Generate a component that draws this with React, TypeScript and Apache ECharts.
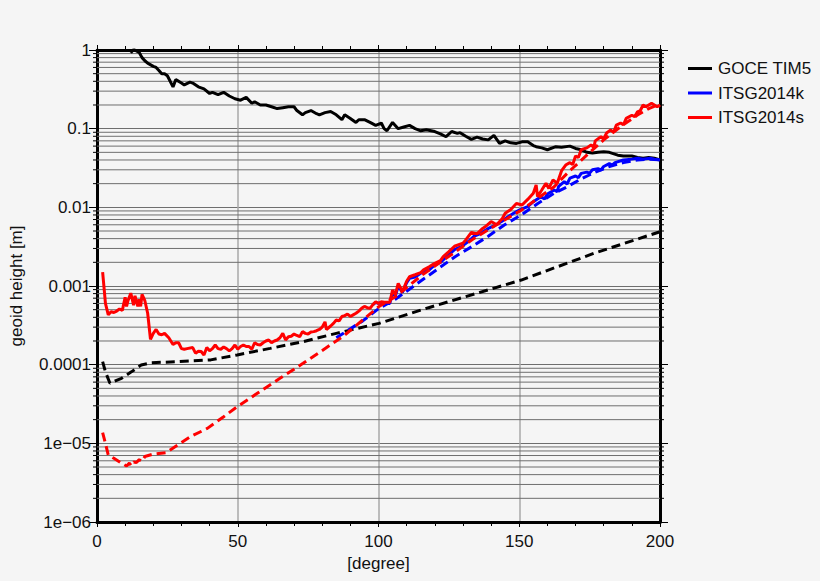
import { useEffect, useRef } from "react";
import * as echarts from "echarts";

// spherical harmonic degree vs. geoid height error [m]
const goceSolid: [number, number][] = [
  [12, 0.92], [13, 1.02], [15, 0.93], [16, 0.8], [17, 0.73], [18, 0.68], [20, 0.62], [21, 0.6],
  [22, 0.55], [23, 0.5], [24, 0.5], [25, 0.47], [26, 0.4], [27, 0.34], [28, 0.42], [30, 0.38],
  [31, 0.36], [33, 0.39], [34, 0.38], [36, 0.34], [38, 0.32], [40, 0.28], [41, 0.29], [43, 0.27],
  [45, 0.29], [47, 0.26], [49, 0.24], [51, 0.23], [53, 0.25], [55, 0.21], [56, 0.22], [58, 0.2],
  [60, 0.2], [62, 0.19], [64, 0.18], [66, 0.185], [68, 0.19], [70, 0.19], [71, 0.17], [73, 0.15],
  [74, 0.16], [76, 0.17], [78, 0.155], [79, 0.15], [81, 0.16], [83, 0.165], [85, 0.15], [87, 0.13],
  [88, 0.15], [90, 0.135], [92, 0.12], [93, 0.13], [95, 0.13], [97, 0.12], [99, 0.11], [101, 0.118],
  [102, 0.1], [103, 0.094], [105, 0.12], [107, 0.1], [109, 0.105], [111, 0.11], [113, 0.1],
  [115, 0.094], [117, 0.097], [120, 0.092], [122, 0.086], [124, 0.079], [126, 0.092], [128, 0.087],
  [129, 0.089], [131, 0.08], [133, 0.073], [135, 0.078], [137, 0.074], [139, 0.072], [141, 0.082],
  [143, 0.065], [145, 0.07], [147, 0.066], [149, 0.065], [151, 0.068], [153, 0.068], [155, 0.061],
  [156, 0.059], [158, 0.057], [160, 0.054], [163, 0.059], [165, 0.058], [168, 0.06], [170, 0.056],
  [172, 0.054], [174, 0.05], [176, 0.049], [178, 0.05], [180, 0.051], [182, 0.05], [185, 0.046],
  [187, 0.045], [190, 0.045], [192, 0.043], [194, 0.042], [196, 0.043], [198, 0.042], [200, 0.04],
];

const goceDashed: [number, number][] = [
  [2, 1.09e-4], [3, 8.1e-5], [4.6, 5.8e-5], [8.7, 6.7e-5], [12.2, 8.1e-5], [15.7, 9.9e-5],
  [19.3, 1.06e-4], [28.6, 1.09e-4], [40.4, 1.15e-4], [49.8, 1.33e-4], [61.5, 1.61e-4],
  [73.2, 1.96e-4], [85, 2.5e-4], [100.2, 3.35e-4], [117.8, 5.3e-4], [150.7, 1.19e-3],
  [176.5, 2.6e-3], [200, 4.9e-3],
];

const itsgKSolid: [number, number][] = [
  [98, 0.00058], [99, 0.00062], [100, 0.0006], [101, 0.00062], [102, 0.0006], [104, 0.0006],
  [105, 0.00082], [106, 0.00075], [107, 0.001], [108.5, 0.00083], [110, 0.0011], [111, 0.00125],
  [113, 0.0013], [115.5, 0.0015], [118, 0.0016], [120, 0.00185], [122, 0.002], [125, 0.0025],
  [127, 0.0029], [129.6, 0.0032], [132, 0.0037], [134, 0.0043], [136, 0.0046], [139, 0.0054],
  [141, 0.0058], [143.7, 0.0066], [146, 0.0076], [148, 0.0084], [150, 0.0092], [153, 0.0102],
  [155, 0.0118], [157.7, 0.0136], [159, 0.0128], [160, 0.0148], [162.4, 0.0166], [163.5, 0.0158],
  [164, 0.0185], [166, 0.0212], [167, 0.0198], [168, 0.0235], [170, 0.025], [171, 0.0238],
  [172, 0.027], [174, 0.028], [175, 0.0272], [176, 0.03], [178, 0.031], [179, 0.0298], [180, 0.033],
  [182, 0.036], [183, 0.0345], [184, 0.037], [187, 0.04], [190, 0.041], [192, 0.042], [194, 0.041],
  [196.5, 0.042], [198, 0.041], [200, 0.04],
];

const itsgKDashed: [number, number][] = [
  [85, 2.2e-4], [94.4, 3.6e-4], [100.2, 5.2e-4], [106, 6.8e-4], [115.5, 0.00119], [121.4, 0.00168],
  [127.2, 0.00236], [133.1, 0.00316], [139, 0.0043], [144.8, 0.006], [150.7, 0.008], [156.6, 0.0112],
  [162.4, 0.0151], [167.1, 0.0183], [172, 0.023], [177, 0.028], [182, 0.033], [187, 0.037],
  [192, 0.04], [196, 0.041], [200, 0.04],
];

const itsgSSolid: [number, number][] = [
  [2, 0.0015], [3, 0.0006], [4, 0.00043], [5, 0.00047], [6, 0.00046], [7, 0.00048], [8, 0.00051],
  [9, 0.00049], [10, 0.00072], [10.5, 0.00055], [11, 0.00065], [12, 0.00081], [13, 0.00057],
  [13.5, 0.00075], [14.5, 0.00055], [15, 0.00068], [15.5, 0.00055], [16, 0.00078], [17, 0.00065],
  [18, 0.00045], [19, 0.00021], [20, 0.00025], [21, 0.00028], [22, 0.000245], [23, 0.00024],
  [24, 0.00025], [25.5, 0.00022], [27, 0.00018], [28, 0.00019], [29, 0.00019], [30, 0.00016],
  [31, 0.000157], [32, 0.00016], [34, 0.000165], [35, 0.00014], [36, 0.000148], [37, 0.000147],
  [38, 0.000133], [39, 0.000165], [40, 0.00015], [41, 0.00016], [42, 0.000178], [43, 0.00016],
  [44, 0.000157], [45, 0.000168], [46, 0.00016], [47, 0.00015], [48, 0.00016], [49, 0.000178],
  [50, 0.000157], [51, 0.00017], [52, 0.000178], [53, 0.00017], [54, 0.00017], [55, 0.000157],
  [56, 0.00019], [57, 0.00018], [58, 0.000178], [59, 0.00019], [60, 0.0002], [61, 0.000206],
  [62, 0.00019], [63, 0.0002], [64, 0.000206], [65, 0.00022], [66, 0.00025], [67, 0.000206],
  [68, 0.000227], [69, 0.00023], [70, 0.000245], [71, 0.000235], [72, 0.000227], [73, 0.000263],
  [74, 0.00025], [75, 0.000245], [76, 0.00026], [77, 0.000263], [78, 0.00027], [79, 0.00028],
  [80, 0.0003], [81, 0.00035], [81.5, 0.00028], [83, 0.00031], [84, 0.000335], [85, 0.00037],
  [86, 0.00036], [87, 0.00041], [88, 0.00042], [89, 0.00044], [90, 0.00041], [91, 0.00043],
  [92, 0.00045], [93, 0.00048], [94, 0.00052], [95, 0.00055], [96, 0.00053], [97, 0.00052],
  [98, 0.00058], [99, 0.00063], [100, 0.0006], [101, 0.00063], [102, 0.00062], [104, 0.00062],
  [105, 0.00089], [106, 0.00077], [107, 0.00108], [108.5, 0.00085], [110, 0.00115], [111, 0.00131],
  [113, 0.00139], [115, 0.00148], [116, 0.0016], [118, 0.00175], [120, 0.00194], [122, 0.0021],
  [123, 0.00236], [125, 0.00273], [127, 0.0032], [130, 0.0035], [131, 0.00385], [133, 0.0048],
  [135, 0.0046], [137, 0.0054], [138, 0.0057], [140, 0.0066], [142, 0.006], [144, 0.0072],
  [145, 0.0084], [147, 0.0094], [149, 0.0112], [151, 0.0107], [153, 0.0126], [155, 0.0151],
  [156, 0.0192], [156.5, 0.0137], [158, 0.0166], [159.5, 0.0202], [160.5, 0.0174], [162, 0.0223],
  [163.5, 0.0202], [165, 0.029], [166.5, 0.0345], [168, 0.037], [169, 0.035], [170, 0.045],
  [171, 0.043], [172, 0.054], [174, 0.057], [175.5, 0.062], [176.5, 0.058], [177, 0.07],
  [179, 0.079], [180, 0.074], [181, 0.088], [182.5, 0.096], [183.5, 0.09], [184.5, 0.111],
  [186, 0.118], [187, 0.112], [188, 0.135], [190, 0.148], [191, 0.142], [192, 0.164], [193, 0.17],
  [194, 0.2], [195, 0.19], [196, 0.2], [197, 0.21], [199, 0.19], [200, 0.2],
];

const itsgSDashed: [number, number][] = [
  [2, 1.37e-5], [3, 1.0e-5], [4, 7.1e-6], [6, 6.45e-6], [8.7, 5.6e-6], [10.5, 5.15e-6],
  [11.5, 5.6e-6], [12.2, 5.2e-6], [13, 5.8e-6], [14, 5.7e-6], [15, 6.2e-6], [16, 5.9e-6],
  [17, 6.8e-6], [20, 7.3e-6], [24.5, 7.6e-6], [28.6, 9.5e-6], [33.3, 1.22e-5], [39.2, 1.55e-5],
  [45, 2.18e-5], [49.8, 2.92e-5], [56.8, 4.3e-5], [65, 6.7e-5], [73.2, 1.04e-4], [80.3, 1.54e-4],
  [87.3, 2.27e-4], [94.4, 3.7e-4], [100.2, 5.5e-4], [106, 7.3e-4], [115.5, 0.00138],
  [121.4, 0.00194], [127.2, 0.0027], [133.1, 0.00385], [139, 0.0052], [144.8, 0.0069],
  [150.7, 0.0092], [156.6, 0.013], [162.4, 0.0183], [167, 0.027], [170, 0.034], [174, 0.046],
  [180, 0.072], [186, 0.106], [192, 0.149], [196, 0.18], [199, 0.2], [200, 0.19],
];

const legendNames = ["GOCE TIM5", "ITSG2014k", "ITSG2014s"];
const yTickLabels = ["1e−06", "1e−05", "0.0001", "0.001", "0.01", "0.1", "1"];
const decades = [-6, -5, -4, -3, -2, -1];
const minorSteps = [2, 3, 4, 5, 6, 7, 8, 9];

const FONT = '"Liberation Sans", Arial, Helvetica, sans-serif';
const BG = "#f5f5f5";
const INK = "#111111";

export default function App() {
  const chartRef = useRef<HTMLDivElement>(null);

  useEffect(() => {
    if (!chartRef.current) return;
    const chart = echarts.init(chartRef.current, undefined, { renderer: "svg" });

    // minor log gridlines (2..9 in every decade)
    const minorValues: [number, number][] = [];
    decades.forEach((d) => {
      minorSteps.forEach((m) => minorValues.push([0, m * Math.pow(10, d)]));
    });

    const lineSeries = (
      name: string,
      data: [number, number][],
      color: string,
      dashed: boolean
    ) => ({
      name,
      type: "line",
      data,
      symbol: "none",
      showSymbol: false,
      silent: true,
      lineStyle: {
        color,
        width: 3,
        type: dashed ? [9, 5] : "solid",
      },
      itemStyle: { color },
    });

    const xBase = {
      type: "value",
      min: 0,
      max: 200,
      interval: 50,
      axisLine: { show: true, onZero: false, lineStyle: { color: "#000", width: 3 } },
      axisTick: { show: true, inside: false, length: 5, lineStyle: { color: "#000", width: 1 } },
      minorTick: { show: true, splitNumber: 5, length: 4, lineStyle: { color: "#000", width: 1 } },
    };

    const yBase = {
      type: "log",
      logBase: 10,
      min: 1e-6,
      max: 1,
      axisLine: { show: true, onZero: false, lineStyle: { color: "#000", width: 3 } },
      axisTick: { show: true, inside: false, length: 8, lineStyle: { color: "#000", width: 1 } },
    };

    chart.setOption({
      animation: false,
      backgroundColor: BG,
      textStyle: { fontFamily: FONT },
      grid: { left: 92, top: 50, right: 160, bottom: 59 },
      legend: {
        data: legendNames,
        orient: "vertical",
        left: 688,
        top: 60,
        padding: 0,
        icon: "rect",
        itemWidth: 24,
        itemHeight: 3,
        itemGap: 7.5,
        selectedMode: false,
        textStyle: { fontFamily: FONT, fontSize: 17, color: INK, padding: [0, 0, 0, 1] },
      },
      xAxis: [
        {
          ...xBase,
          position: "bottom",
          name: "[degree]",
          nameLocation: "middle",
          nameGap: 29,
          nameTextStyle: { fontFamily: FONT, fontSize: 17, color: INK },
          axisLabel: { fontFamily: FONT, fontSize: 17, color: INK, margin: 11 },
          splitLine: { show: true, lineStyle: { color: "#a8a8a8", width: 1.5 } },
        },
        {
          ...xBase,
          position: "top",
          axisLabel: { show: false },
          splitLine: { show: false },
        },
      ],
      yAxis: [
        {
          ...yBase,
          position: "left",
          name: "geoid height [m]",
          nameLocation: "middle",
          nameGap: 72,
          nameTextStyle: { fontFamily: FONT, fontSize: 17, color: INK },
          axisLabel: {
            fontFamily: FONT,
            fontSize: 17,
            color: INK,
            margin: 6,
            formatter: (v: number) => yTickLabels[Math.round(Math.log10(v)) + 6] ?? "",
          },
          splitLine: { show: true, lineStyle: { color: "#6e6e6e", width: 1 } },
        },
        {
          ...yBase,
          position: "right",
          axisLabel: { show: false },
          splitLine: { show: false },
        },
      ],
      series: [
        {
          name: "minor-grid",
          type: "custom",
          silent: true,
          clip: false,
          data: minorValues,
          renderItem: (_params: any, api: any) => {
            const v = api.value(1);
            const a = api.coord([0, v]);
            const b = api.coord([200, v]);
            return {
              type: "group",
              children: [
                {
                  type: "line",
                  shape: { x1: a[0], y1: a[1], x2: b[0], y2: b[1] },
                  style: { stroke: "#6e6e6e", lineWidth: 1 },
                },
                {
                  type: "line",
                  shape: { x1: a[0] - 4, y1: a[1], x2: a[0], y2: a[1] },
                  style: { stroke: "#000", lineWidth: 1 },
                },
                {
                  type: "line",
                  shape: { x1: b[0], y1: b[1], x2: b[0] + 4, y2: b[1] },
                  style: { stroke: "#000", lineWidth: 1 },
                },
              ],
            };
          },
        },
        lineSeries(legendNames[0], goceSolid, "#000000", false),
        lineSeries(legendNames[0], goceDashed, "#000000", true),
        lineSeries(legendNames[1], itsgKSolid, "#0000ff", false),
        lineSeries(legendNames[1], itsgKDashed, "#0000ff", true),
        lineSeries(legendNames[2], itsgSSolid, "#ff0000", false),
        lineSeries(legendNames[2], itsgSDashed, "#ff0000", true),
      ],
    });

    return () => {
      chart.dispose();
    };
  }, []);

  return (
    <div
      style={{
        position: "fixed",
        left: 0,
        top: 0,
        width: 820,
        height: 581,
        background: BG,
      }}
    >
      <div ref={chartRef} style={{ width: 820, height: 581 }}></div>
    </div>
  );
}
